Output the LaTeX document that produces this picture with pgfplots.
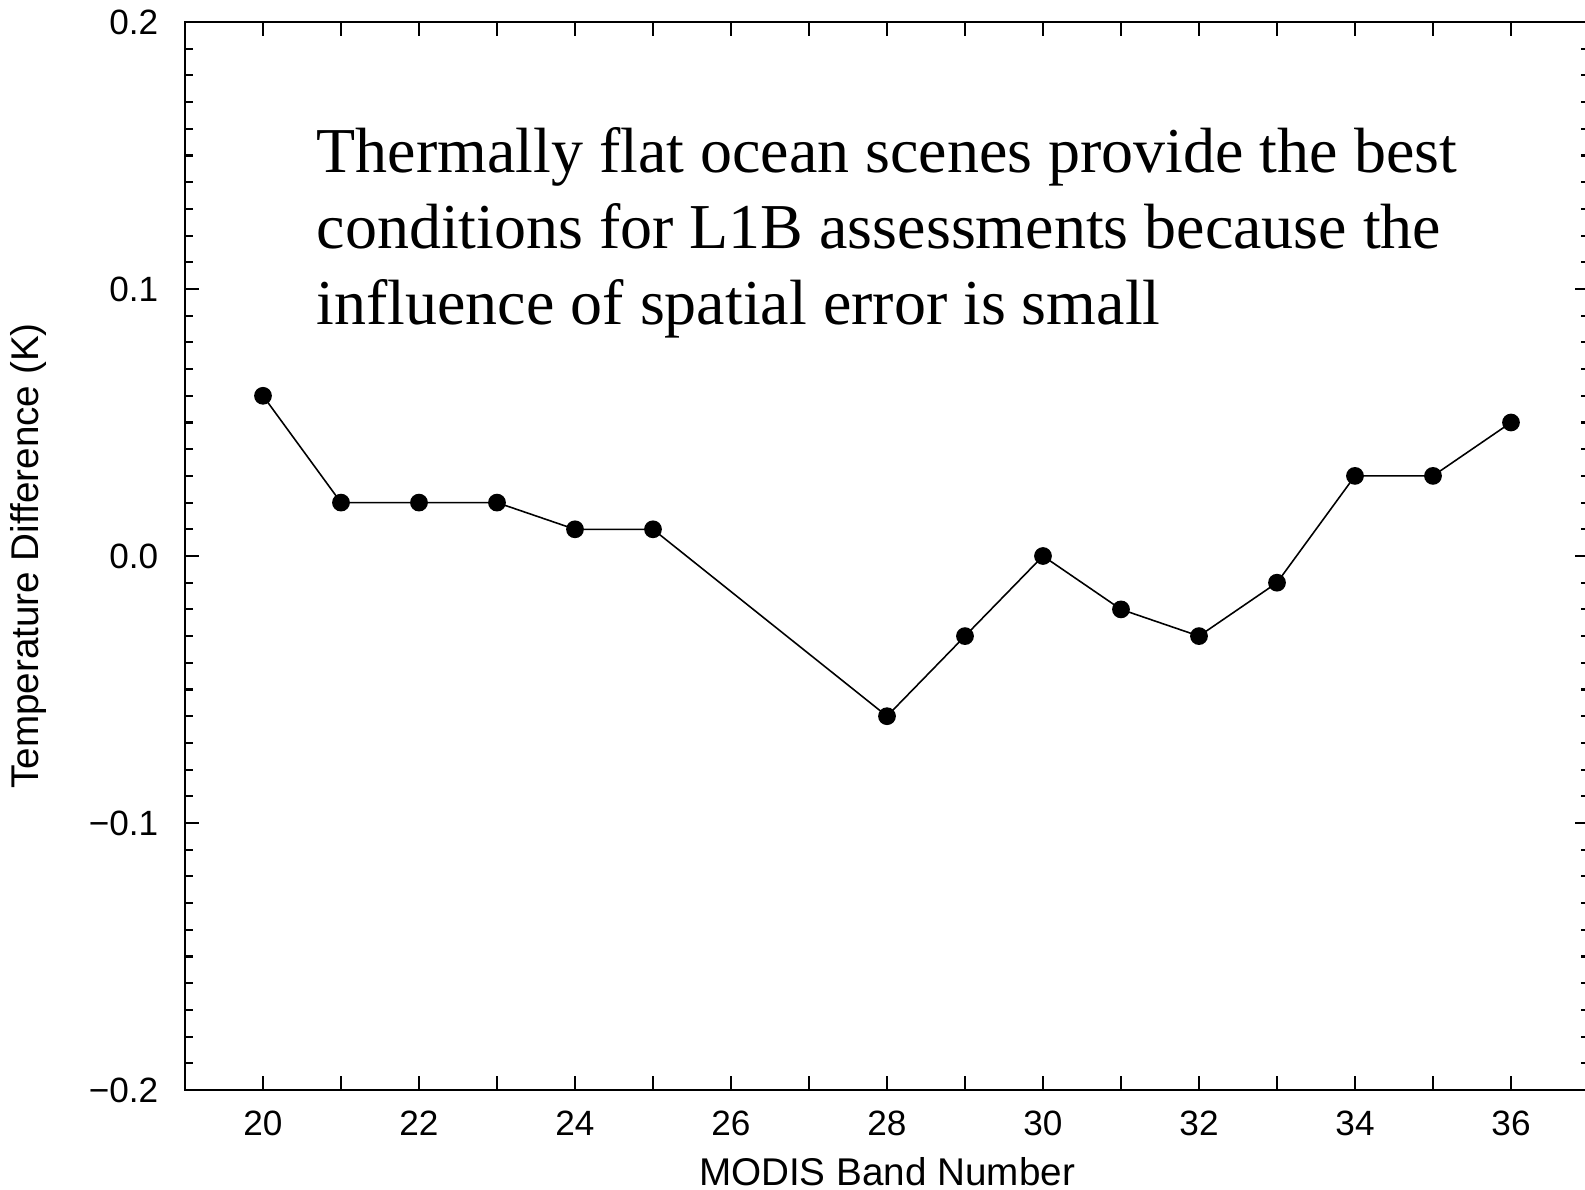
\documentclass[border=0pt]{standalone}
\usepackage{pgfplots}
\pgfplotsset{compat=1.18}
\usepackage{fontspec}
\setmainfont{Liberation Serif}
\setsansfont{Liberation Sans}
\begin{document}
\begin{tikzpicture}
\begin{axis}[
    scale only axis,
    width=14.04cm,
    height=10.68cm,
    xmin=19, xmax=37,
    ymin=-0.2, ymax=0.2,
    axis line style={line width=0.6pt},
    tick style={black, line width=0.6pt},
    tick align=inside,
    xtick={20,...,36},
    xticklabels={20,,22,,24,,26,,28,,30,,32,,34,,36},
    ytick={-0.2,-0.1,0,0.1,0.2},
    yticklabels={−0.2,−0.1,0.0,0.1,0.2},
    minor y tick num=9,
    major tick length=1.4mm,
    minor tick length=0.8mm,
    ticklabel style={font=\sffamily\fontsize{10}{12}\selectfont},
    xticklabel style={inner sep=0pt, anchor=north, yshift=-2mm},
    yticklabel style={inner sep=0pt, anchor=east, xshift=-2.6mm},
    xlabel={MODIS Band Number},
    ylabel={Temperature Difference (K)},
    label style={font=\sffamily\fontsize{11}{13}\selectfont, inner sep=0pt},
    xlabel style={at={(axis description cs:0.5,-0.089)}, anchor=base},
    ylabel style={at={(axis description cs:-0.1118,0.5)}, anchor=center, rotate=0},
]
\addplot[black, line width=0.45pt, mark=*, mark size=2.3pt] coordinates {
    (20,0.06) (21,0.02) (22,0.02) (23,0.02) (24,0.01) (25,0.01)
    (28,-0.06) (29,-0.03) (30,0.00) (31,-0.02) (32,-0.03) (33,-0.01)
    (34,0.03) (35,0.03) (36,0.05)
};
\node[anchor=north west, inner sep=0pt, align=left,
      font=\fontsize{18.2}{21.6}\selectfont]
  at (axis cs:20.68,0.1607)
  {Thermally flat ocean scenes provide the best\\
   conditions for L1B assessments because the\\
   influence of spatial error is small};
\end{axis}
\pgfresetboundingbox
\path[use as bounding box] (-1.85,-1.0) rectangle (14.0,10.9);
\end{tikzpicture}
\end{document}
